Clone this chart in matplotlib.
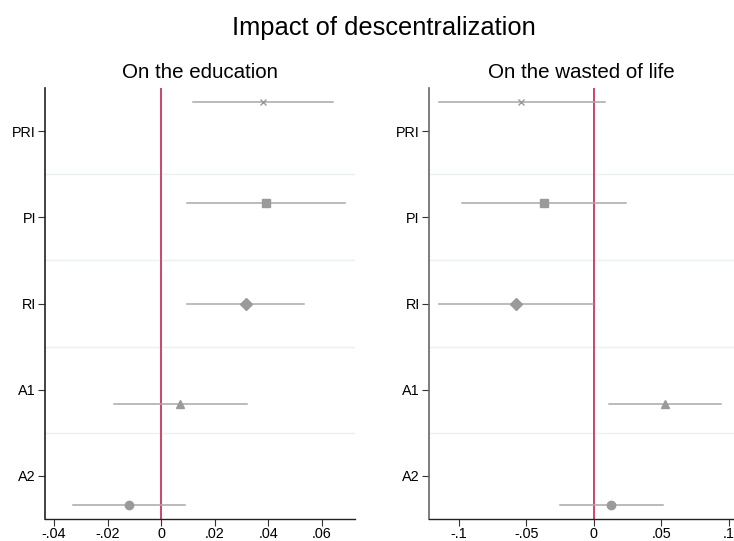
import matplotlib
matplotlib.use("Agg")
import matplotlib.pyplot as plt
import numpy as np

plt.rcParams['font.family'] = ['Liberation Sans', 'DejaVu Sans']

categories = ["PRI", "PI", "RI", "A1", "A2"]
markers = ["x", "s", "D", "^", "o"]
offsets = [0.333, 0.167, 0.0, -0.167, -0.333]

edu_coef = [0.038, 0.0391, 0.0315, 0.0071, -0.012]
edu_lo = [0.0117, 0.0096, 0.0096, -0.0177, -0.0331]
edu_hi = [0.064, 0.0688, 0.0535, 0.0321, 0.009]

wast_coef = [-0.0536, -0.037, -0.0575, 0.0526, 0.013]
wast_lo = [-0.1148, -0.0978, -0.1146, 0.0113, -0.0252]
wast_hi = [0.0086, 0.0239, -0.0002, 0.094, 0.0511]

edu_ticks = [-0.04, -0.02, 0, 0.02, 0.04, 0.06]
edu_ticklabels = ["-.04", "-.02", "0", ".02", ".04", ".06"]
wast_ticks = [-0.1, -0.05, 0, 0.05, 0.1]
wast_ticklabels = ["-.1", "-.05", "0", ".05", ".1"]

fig = plt.figure(figsize=(7.34, 5.41), dpi=100)
W, H = 734, 541

def make_ax(x0, x1):
    return fig.add_axes([x0 / W, 1 - 519 / H, (x1 - x0) / W, (519 - 88) / H])

ax1 = make_ax(45, 355)
ax2 = make_ax(428.7, 734)

line_col = "#a8a8a8"
mk_col = "#9a9a9a"
red = "#c8385a"

def draw(ax, coef, lo, hi, xlim, ticks, ticklabels, spinecol):
    ypos = np.arange(1, len(categories) + 1)
    for yb in np.arange(1.5, len(categories), 1.0):
        ax.axhline(yb, color="#e9f1f3", lw=1.0, zorder=0)
    ax.axvline(0, color=red, lw=1.3, zorder=1)
    for i in range(len(categories)):
        y = ypos[i] - offsets[i]
        ax.plot([lo[i], hi[i]], [y, y], color=line_col, lw=1.1, zorder=2)
        if markers[i] == "x":
            ax.plot(coef[i], y, marker="x", color=mk_col, ms=5, mew=1.0, zorder=3, linestyle="none")
        else:
            ax.plot(coef[i], y, marker=markers[i], color=mk_col, mec=mk_col, ms=6, zorder=3, linestyle="none")
    ax.set_ylim(len(categories) + 0.5, 0.5)
    ax.set_xlim(*xlim)
    ax.set_yticks(ypos)
    ax.set_yticklabels(categories)
    ax.set_xticks(ticks)
    ax.set_xticklabels(ticklabels)
    ax.tick_params(axis="both", labelsize=10.4, length=5, width=0.8, color="#333333")
    ax.tick_params(axis="x", pad=0.5)
    ax.tick_params(axis="y", pad=1.5)
    for s in ["top", "right"]:
        ax.spines[s].set_visible(False)
    ax.spines["left"].set_color(spinecol)
    ax.spines["left"].set_linewidth(1.2)
    ax.spines["bottom"].set_color("#222222")
    ax.spines["bottom"].set_linewidth(1.0)

draw(ax1, edu_coef, edu_lo, edu_hi, (-0.0434, 0.0724), edu_ticks, edu_ticklabels, "#222222")
draw(ax2, wast_coef, wast_lo, wast_hi, (-0.1222, 0.1039), wast_ticks, wast_ticklabels, "#666666")

fig.text(200 / W, 1 - 72 / H, "On the education", ha="center", va="center", fontsize=14.8)
fig.text(581 / W, 1 - 72 / H, "On the wasted of life", ha="center", va="center", fontsize=14.8)
fig.text(384 / W, 1 - 28 / H, "Impact of descentralization", ha="center", va="center", fontsize=18.4)

fig.savefig("out.png", dpi=100)
